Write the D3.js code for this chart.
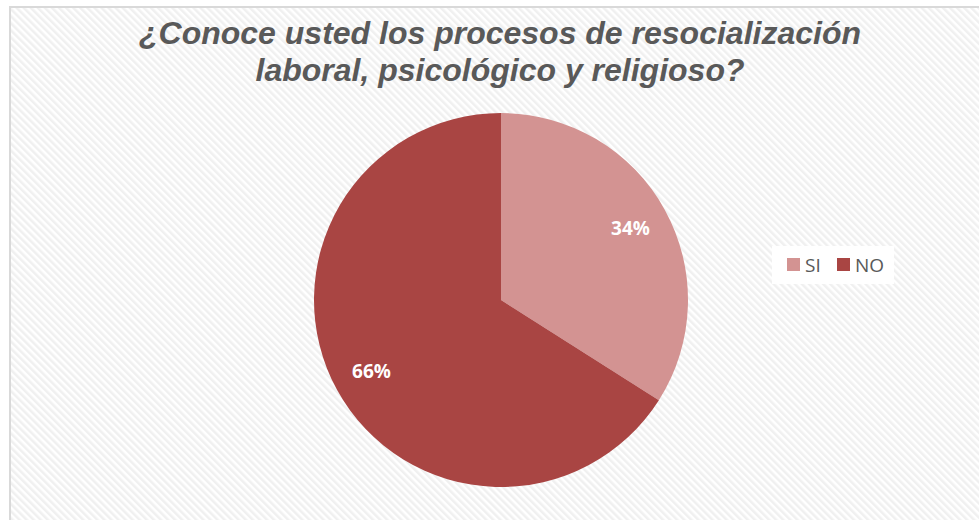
<!DOCTYPE html>
<html><head><meta charset="utf-8">
<script src="https://cdn.jsdelivr.net/npm/d3@7"></script>
<style>body{margin:0;background:#fff}svg{display:block}</style>
</head><body>
<svg id="c" width="979" height="520"></svg>
<script>
const categories = ["SI", "NO"];
const values = [34, 66];
const colors = ["#d39392", "#a94543"];
const titleLines = ["¿Conoce usted los procesos de resocialización", "laboral, psicológico y religioso?"];

const svg = d3.select("#c");
const defs = svg.append("defs");
const pat = defs.append("pattern").attr("id","stripes").attr("patternUnits","userSpaceOnUse")
  .attr("width",5).attr("height",5).attr("patternTransform","rotate(-45)");
pat.append("rect").attr("width",5).attr("height",5).attr("fill","#ffffff");
pat.append("rect").attr("width",2.5).attr("height",5).attr("fill","#f0f0f0");

svg.append("rect").attr("x",10).attr("y",7).attr("width",980).attr("height",530)
  .attr("fill","url(#stripes)").attr("stroke","#d9d9d9").attr("stroke-width",2);

const title = svg.append("text").attr("text-anchor","middle")
  .attr("font-family","Liberation Sans, Arial, sans-serif").attr("font-weight","bold")
  .attr("font-style","italic").attr("font-size",32).attr("fill","#595959");
titleLines.forEach((t,i)=>title.append("tspan").attr("x",500).attr("y",44+i*37).text(t));

const cx = 501, cy = 300, r = 187;
const pie = d3.pie().sort(null).value(d=>d)(values);
const arc = d3.arc().innerRadius(0).outerRadius(r);
const g = svg.append("g").attr("transform",`translate(${cx},${cy})`);
g.selectAll("path").data(pie).join("path").attr("d",arc).attr("fill",(d,i)=>colors[i]);
const labelArc = d3.arc().innerRadius(r*0.79).outerRadius(r*0.79);
g.selectAll("text.lbl").data(pie).join("text").attr("class","lbl")
  .attr("transform",d=>`translate(${labelArc.centroid(d)})`)
  .attr("text-anchor","middle").attr("dy","0.35em")
  .attr("font-family","Open Sans, Lato, sans-serif").attr("font-weight","bold")
  .attr("font-size",19).attr("fill","#ffffff")
  .text(d=>d.data+"%");

const leg = svg.append("g").attr("transform","translate(772,246)");
leg.append("rect").attr("width",122).attr("height",38).attr("fill","#ffffff");
const items = leg.selectAll("g").data(categories).join("g")
  .attr("transform",(d,i)=>`translate(${15+i*50},12)`);
items.append("rect").attr("width",13).attr("height",13).attr("fill",(d,i)=>colors[i]);
items.append("text").attr("x",18).attr("y",13.5).attr("font-family","Open Sans, Lato, sans-serif")
  .attr("font-size",19).attr("fill","#595959").text(d=>d);
</script>
</body></html>
